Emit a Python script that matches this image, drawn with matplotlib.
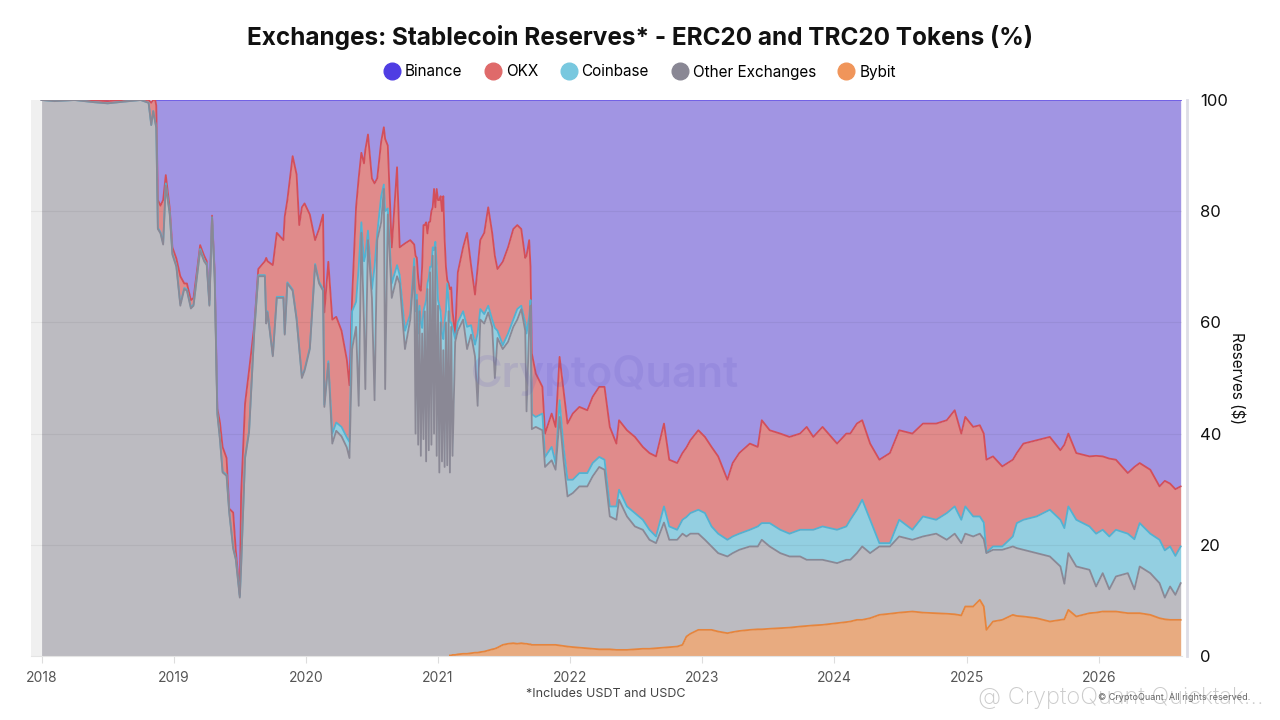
import numpy as np
import matplotlib
matplotlib.use('Agg')
import matplotlib.pyplot as plt
from matplotlib.lines import Line2D

plt.rcParams['font.family'] = ['Inter', 'DejaVu Sans']

# ---- data: stacked levels (%), bottom -> top --------------------------------
# Bybit | Other Exchanges | Coinbase | OKX | Binance (up to 100)
t = [
    2018.00, 2018.10, 2018.25, 2018.40, 2018.50, 2018.62, 2018.75, 2018.81, 2018.83, 2018.845,
    2018.86, 2018.868, 2018.88, 2018.90, 2018.92, 2018.94, 2018.97, 2018.99, 2019.02, 2019.05,
    2019.08, 2019.10, 2019.13, 2019.15, 2019.18, 2019.20, 2019.23, 2019.25, 2019.27, 2019.29,
    2019.31, 2019.33, 2019.35, 2019.37, 2019.40, 2019.42, 2019.45, 2019.47, 2019.50, 2019.51,
    2019.54, 2019.57, 2019.61, 2019.64, 2019.69, 2019.70, 2019.71, 2019.75, 2019.78, 2019.83,
    2019.84, 2019.86, 2019.90, 2019.93, 2019.95, 2019.97, 2019.99, 2020.03, 2020.07, 2020.10,
    2020.13, 2020.14, 2020.17, 2020.20, 2020.23, 2020.27, 2020.31, 2020.33, 2020.35, 2020.38,
    2020.40, 2020.42, 2020.44, 2020.45, 2020.47, 2020.50, 2020.52, 2020.54, 2020.57, 2020.59,
    2020.60, 2020.62, 2020.65, 2020.69, 2020.71, 2020.75, 2020.79, 2020.82, 2020.83, 2020.84,
    2020.85, 2020.86, 2020.87, 2020.88, 2020.89, 2020.90, 2020.91, 2020.92, 2020.93, 2020.94,
    2020.95, 2020.96, 2020.97, 2020.98, 2020.99, 2021.00, 2021.01, 2021.02, 2021.03, 2021.04,
    2021.05, 2021.06, 2021.07, 2021.08, 2021.09, 2021.10, 2021.11, 2021.13, 2021.15, 2021.19,
    2021.22, 2021.25, 2021.28, 2021.30, 2021.32, 2021.35, 2021.38, 2021.41, 2021.43, 2021.45,
    2021.49, 2021.53, 2021.57, 2021.60, 2021.63, 2021.66, 2021.67, 2021.69, 2021.70, 2021.71,
    2021.74, 2021.79, 2021.81, 2021.86, 2021.89, 2021.92, 2021.95, 2021.98, 2022.02, 2022.07,
    2022.13, 2022.17, 2022.22, 2022.26, 2022.30, 2022.35, 2022.37, 2022.43, 2022.49, 2022.55,
    2022.60, 2022.65, 2022.71, 2022.75, 2022.81, 2022.85, 2022.88, 2022.91, 2022.97, 2023.02,
    2023.07, 2023.12, 2023.19, 2023.23, 2023.28, 2023.36, 2023.42, 2023.45, 2023.51, 2023.59,
    2023.66, 2023.74, 2023.79, 2023.84, 2023.91, 2024.02, 2024.09, 2024.12, 2024.17, 2024.21,
    2024.27, 2024.34, 2024.42, 2024.49, 2024.59, 2024.67, 2024.77, 2024.85, 2024.91, 2024.96,
    2024.99, 2025.05, 2025.10, 2025.13, 2025.15, 2025.20, 2025.27, 2025.35, 2025.38, 2025.43,
    2025.53, 2025.63, 2025.71, 2025.74, 2025.77, 2025.83, 2025.93, 2025.98, 2026.03, 2026.08,
    2026.13, 2026.22, 2026.27, 2026.31, 2026.39, 2026.46, 2026.50, 2026.54, 2026.58, 2026.62,
]

bybit = [
    0, 0, 0, 0, 0, 0, 0, 0, 0, 0,
    0, 0, 0, 0, 0, 0, 0, 0, 0, 0,
    0, 0, 0, 0, 0, 0, 0, 0, 0, 0,
    0, 0, 0, 0, 0, 0, 0, 0, 0, 0,
    0, 0, 0, 0, 0, 0, 0, 0, 0, 0,
    0, 0, 0, 0, 0, 0, 0, 0, 0, 0,
    0, 0, 0, 0, 0, 0, 0, 0, 0, 0,
    0, 0, 0, 0, 0, 0, 0, 0, 0, 0,
    0, 0, 0, 0, 0, 0, 0, 0, 0, 0,
    0, 0, 0, 0, 0, 0, 0, 0, 0, 0,
    0, 0, 0, 0, 0, 0, 0, 0, 0, 0,
    0, 0, 0, 0, 0.1, 0.1, 0.2, 0.2, 0.3, 0.4,
    0.4, 0.5, 0.6, 0.6, 0.7, 0.8, 1.0, 1.2, 1.3, 1.5,
    2.0, 2.2, 2.3, 2.2, 2.3, 2.2, 2.2, 2.1, 2.1, 2.0,
    2.0, 2.0, 2.0, 2.0, 2.0, 1.9, 1.8, 1.7, 1.6, 1.5,
    1.4, 1.3, 1.2, 1.2, 1.2, 1.1, 1.1, 1.1, 1.2, 1.3,
    1.3, 1.4, 1.5, 1.6, 1.7, 2.0, 3.5, 4.0, 4.7, 4.7,
    4.7, 4.4, 4.1, 4.3, 4.5, 4.7, 4.8, 4.8, 4.9, 5.0,
    5.1, 5.3, 5.4, 5.5, 5.6, 5.9, 6.1, 6.2, 6.5, 6.5,
    6.8, 7.4, 7.6, 7.8, 8.0, 7.8, 7.7, 7.6, 7.5, 7.3,
    8.9, 8.9, 10.1, 8.9, 4.7, 6.2, 6.5, 7.4, 7.2, 7.1,
    6.8, 6.2, 6.5, 6.6, 8.3, 7.1, 7.7, 7.8, 8.0, 8.0,
    8.0, 7.7, 7.7, 7.7, 7.4, 6.8, 6.6, 6.5, 6.5, 6.5,
]

other = [
    100, 99.8, 100, 99.6, 99.4, 99.7, 100, 99.5, 95.5, 98,
    96, 95, 76.8, 76, 74, 84.6, 79.4, 72.2, 70, 63,
    66, 65.7, 62.5, 63, 69, 72.9, 71, 70.3, 63, 78.8,
    68, 43.5, 38.9, 33, 32.4, 25.8, 19.3, 17.3, 10.5, 16,
    35.6, 40.2, 58.5, 68.3, 68.3, 59.8, 61.8, 53.9, 64.4, 64.4,
    57.8, 67, 65.7, 60.5, 55.2, 50, 51.3, 55.2, 70.3, 67,
    65.7, 44.8, 52.6, 38.2, 40.5, 39.5, 37.5, 35.6, 55.2, 59.2,
    45, 76.1, 60, 48, 74.8, 64.4, 46, 74.8, 78, 84,
    48, 79.4, 64.4, 68.3, 67, 55.2, 60.5, 70, 40, 64,
    38, 62, 36, 58, 39, 62, 35, 66, 37, 69,
    38, 72, 40, 73.5, 36, 63, 33, 60, 35, 55,
    34, 60, 34.3, 62, 33, 59.2, 36, 56.5, 58.5, 60.5,
    55.2, 57.8, 53.9, 45, 60.5, 59.8, 61.8, 59.2, 50, 57.2,
    55.2, 56.5, 59.2, 60.5, 62.4, 58.5, 44, 59.2, 63, 40.8,
    41.2, 40.6, 34, 35.2, 33.5, 43, 35.2, 28.7, 29.3, 30.5,
    30.5, 32.3, 34, 33.5, 25.1, 24.5, 28.1, 25.1, 23.3, 22.7,
    20.9, 20.3, 24, 20.9, 20.9, 22, 21.5, 22, 22, 20.9,
    19.7, 18.5, 17.9, 18.5, 19.1, 19.7, 19.7, 20.9, 19.7, 18.5,
    17.9, 17.9, 17.3, 17.3, 17.3, 16.7, 17.3, 17.3, 18.5, 19.7,
    18.5, 19.7, 19.7, 21.5, 20.9, 21.5, 22, 20.9, 22, 20.3,
    22, 21.5, 22, 21, 18.5, 19.1, 19.1, 19.7, 19.4, 19.1,
    18.5, 17.9, 16.1, 13, 18.5, 16.1, 15.5, 12.5, 14.9, 12,
    14.3, 14.9, 12, 16.1, 14.9, 13.1, 10.5, 12.5, 11, 13.1,
]

coinbase = [
    100, 99.8, 100, 99.6, 99.4, 99.7, 100, 99.5, 95.5, 98,
    96, 95, 77, 76.2, 74.3, 85, 79.6, 72.4, 70.2, 63.3,
    66.2, 65.9, 62.7, 63.2, 69.2, 73.2, 71.2, 70.5, 63.2, 78.9,
    68.2, 43.7, 39.1, 33.2, 32.6, 26, 19.5, 17.5, 10.7, 16.2,
    35.8, 40.4, 58.7, 68.5, 68.5, 60, 62, 54.1, 64.6, 64.6,
    58, 67.2, 65.9, 60.7, 55.4, 50.2, 51.5, 55.4, 70.5, 67.3,
    66, 45.2, 53, 40, 42, 41.2, 39.3, 38.5, 62, 63.7,
    70, 78, 71, 72, 76.5, 66, 70, 76, 82.7, 84.8,
    80, 80.5, 67, 70.3, 68.5, 58.5, 61.5, 71.5, 62, 65,
    58, 63, 60, 59, 62, 63, 64, 67, 68, 70,
    70, 73.5, 73, 74.5, 70, 64, 63, 62, 58, 57,
    60, 62, 67, 64, 60, 60, 59, 57, 60, 62,
    59.2, 59.5, 56, 58, 62.4, 61.5, 63, 60.5, 59, 58.5,
    55.9, 58, 60.5, 62.4, 63, 60, 58, 61, 64, 43.5,
    43, 43.6, 35.8, 37.6, 34.7, 46, 37.6, 31.7, 31.7, 32.9,
    32.9, 34.7, 35.8, 35.3, 26.9, 26.9, 29.9, 26.9, 25.7, 24.5,
    22.7, 21.5, 26.9, 23.3, 22.7, 24.5, 25, 25.7, 26.3, 25.7,
    23.3, 22, 20.9, 21.5, 22, 22.7, 23.3, 23.9, 23.9, 22.7,
    22, 22.7, 22.7, 22.7, 23.3, 22.7, 23.3, 24.5, 26.3, 28.1,
    24.5, 20.3, 20.3, 24.5, 22.7, 25.1, 24.5, 25.7, 26.9, 24.5,
    26.9, 25.1, 25.1, 24, 18.6, 19.7, 19.7, 21.5, 23.9, 24.5,
    25.1, 26.3, 24.5, 23, 26.9, 24.5, 23.3, 22, 22.7, 21.5,
    22.7, 22, 21, 23.9, 22, 20.9, 19, 19.7, 18, 19.7,
]

okx = [
    100, 100, 100, 99.9, 99.8, 100, 100, 100, 99.5, 100,
    100, 99, 82, 81, 82, 86.5, 80.5, 73.5, 71.5, 68.3,
    67, 67, 64, 64.4, 70, 73.9, 72, 71, 64, 79.2,
    69, 44.5, 42, 37.6, 35.6, 26.5, 25.8, 19, 11, 29,
    45.4, 51.3, 59.5, 69.6, 71, 71.6, 71, 70.3, 76.1, 74.8,
    79, 82, 89.9, 86.6, 77.5, 80.7, 81.4, 79.4, 74.8, 76.8,
    79.4, 61.8, 70.9, 60.5, 61, 58.5, 53.3, 48.7, 64.4, 80.7,
    86, 90.5, 88.6, 91, 93.8, 85.9, 85, 85.9, 92.5, 95.1,
    93, 91.8, 73.5, 87.9, 73.5, 74.2, 74.8, 74, 72, 71.6,
    68, 66, 65.7, 70, 77.5, 77.5, 78, 76, 78, 78.1,
    80, 80.7, 84, 80.7, 84, 82, 82, 82.7, 80, 82.7,
    75, 70, 67.6, 67, 66, 66.3, 62, 57.8, 69, 73.5,
    76.1, 70.3, 65, 70, 74.8, 76.1, 80.7, 76.1, 72, 69.6,
    70.9, 73.5, 76.8, 77.5, 76.8, 71.6, 72, 74.8, 70, 54.4,
    50.8, 48.4, 40, 43.6, 41.2, 53.8, 47.8, 41.8, 43.6, 44.8,
    44.2, 46.6, 48.4, 48.4, 41.2, 38.2, 42.4, 40.6, 39.4, 37.6,
    36.5, 35.9, 41.8, 35.3, 34.7, 36.5, 37.5, 38.8, 40.6, 39.4,
    37.6, 35.9, 31.7, 34.7, 36.5, 38.2, 37.6, 42.4, 40.6, 40,
    39.4, 40, 41.2, 39.4, 41.2, 38.2, 40, 40, 41.8, 42.4,
    38.2, 35.3, 36.5, 40.6, 40, 41.8, 41.8, 42.4, 44.2, 40,
    43, 41.2, 41.5, 40, 35.3, 35.9, 34.1, 35.3, 36.5, 38.2,
    38.8, 39.4, 37, 38, 40, 36.5, 35.9, 36, 35.9, 35.5,
    35.3, 32.9, 34, 34.7, 33.5, 30.5, 31.5, 31, 30, 30.5,
]

names = ['Binance', 'OKX', 'Coinbase', 'Other Exchanges', 'Bybit']
year_ticks = [2018, 2019, 2020, 2021, 2022, 2023, 2024, 2025, 2026]

assert len(t) == len(bybit) == len(other) == len(coinbase) == len(okx)

t = np.array(t)
bybit = np.array(bybit, dtype=float)
other = np.array(other, dtype=float)
coinbase = np.array(coinbase, dtype=float)
okx = np.array(okx, dtype=float)
top = np.full_like(okx, 100.0)

# ---- colours ------------------------------------------------------------------
c_marker = {'Binance': '#4f3de3', 'OKX': '#df6a6a', 'Coinbase': '#78c8df',
            'Other Exchanges': '#898794', 'Bybit': '#f0955a'}
c_fill = {'Binance': '#a195e3', 'OKX': '#e08b8b', 'Coinbase': '#93cfe1',
          'Other Exchanges': '#bcbbc1', 'Bybit': '#e8ab80'}
c_line = {'Binance': '#6a58e4', 'OKX': '#d34f5a', 'Coinbase': '#52b2d2',
          'Other Exchanges': '#8a8895', 'Bybit': '#e6853d'}

fig = plt.figure(figsize=(12.8, 7.2), dpi=100)
ax = fig.add_axes([31/1280, 1-656/720, (1182-31)/1280, 556/720])

# light band before data start
ax.axvspan(2017.92, 2018.0, color='#f0f0f0', lw=0, zorder=0)

# ---- stacked areas ------------------------------------------------------------
ax.fill_between(t, 0, bybit, color=c_fill['Bybit'], lw=0, zorder=1)
ax.fill_between(t, bybit, other, color=c_fill['Other Exchanges'], lw=0, zorder=1)
ax.fill_between(t, other, coinbase, color=c_fill['Coinbase'], lw=0, zorder=1)
ax.fill_between(t, coinbase, okx, color=c_fill['OKX'], lw=0, zorder=1)
ax.fill_between(t, okx, top, color=c_fill['Binance'], lw=0, zorder=1)

# grid over the fills
for g in [20, 40, 60, 80]:
    ax.axhline(g, color='#000000', alpha=0.05, lw=0.8, zorder=2)

# ---- series lines -------------------------------------------------------------
ax.plot(t, np.where(okx < 100, top, np.nan), color=c_line['Binance'], lw=1.3, zorder=3)
ax.plot(t, okx, color=c_line['OKX'], lw=1.3, zorder=3)
ax.plot(t, coinbase, color=c_line['Coinbase'], lw=1.3, zorder=3)
ax.plot(t, other, color=c_line['Other Exchanges'], lw=1.3, zorder=3)
ax.plot(t, np.where(bybit > 0, bybit, np.nan), color=c_line['Bybit'], lw=1.3, zorder=3)

# watermark
ax.text(0.499, 0.505, 'CryptoQuant', transform=ax.transAxes, ha='center', va='center',
        fontsize=31, fontweight='semibold', color='#5a4cc0', alpha=0.13, zorder=4)

# ---- axes ---------------------------------------------------------------------
ax.set_xlim(2017.92, 2026.63)
ax.set_ylim(0, 100)
ax.set_xticks(year_ticks)
ax.set_xticklabels([str(y) for y in year_ticks], fontsize=10, color='#555555')
ax.tick_params(axis='x', length=5, color='#dddddd', pad=6)
ax.yaxis.tick_right()
ax.yaxis.set_label_position('right')
ax.set_yticks([0, 20, 40, 60, 80, 100])
ax.tick_params(axis='y', length=0, labelsize=12, pad=13, labelcolor='#111111')
ax.set_ylabel('Reserves ($)', rotation=270, fontsize=11, labelpad=12, color='#111111')
for s in ['top', 'left', 'right']:
    ax.spines[s].set_visible(False)
ax.spines['bottom'].set_color('#e4e4e4')

# separator line right of the plot
fig.add_artist(Line2D([1187/1280, 1187/1280], [1-656/720, 1-100/720],
                      color='#dddde6', lw=2))

# ---- title & legend -----------------------------------------------------------
fig.text(0.5, 1-38/720, 'Exchanges: Stablecoin Reserves* - ERC20 and TRC20 Tokens (%)',
         ha='center', va='center', fontsize=17.5, fontweight='bold', color='#111111')
handles = [Line2D([], [], ls='', marker='o', markersize=12, color=c_marker[n]) for n in names]
fig.legend(handles, names, loc='center', bbox_to_anchor=(0.5, 1-72/720), ncol=5,
           frameon=False, fontsize=11, handletextpad=0.35, columnspacing=1.5,
           handlelength=1.0)

fig.text(606/1280, 1-694/720, '*Includes USDT and USDC', ha='center', va='center',
         fontsize=9, color='#444444')
fig.text(978/1280, 1-698/720, '@ CryptoQuant Quicktak...', ha='left', va='center',
         fontsize=17, fontweight='light', color='#b5b5b5', alpha=0.7)
fig.text(1250/1280, 1-698/720, '\u00a9 CryptoQuant. All rights reserved.', ha='right',
         va='center', fontsize=6.5, color='#666666')

fig.savefig('out.png', dpi=100)
